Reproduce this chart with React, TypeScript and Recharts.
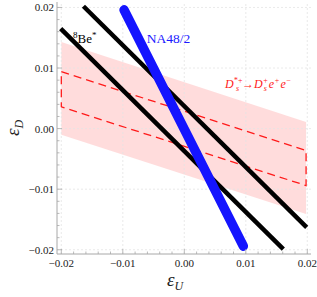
import React from 'react'
import { ComposedChart, Line, Area, XAxis, YAxis, ReferenceLine, ReferenceDot, Label } from 'recharts'

// axis ticks
const majorTicks = [-0.02, -0.01, 0, 0.01, 0.02]
const allTicks = [
    -0.02, -0.018, -0.016, -0.014, -0.012, -0.01, -0.008, -0.006, -0.004, -0.002, 0,
    0.002, 0.004, 0.006, 0.008, 0.01, 0.012, 0.014, 0.016, 0.018, 0.02,
]
const majorLabels = ['\u22120.02', '\u22120.01', '0.00', '0.01', '0.02']

// 8Be* lines
const beUpperX = [-0.0164, 0.0199]
const beUpperY = [0.0202, -0.0163]
const beLowerX = [-0.0201, 0.0161]
const beLowerY = [0.0165, -0.0199]

// NA48/2 band
const naX = [-0.0098, 0.0096]
const naY = [0.0196, -0.0194]

// D_s*+ -> D_s+ e+ e- : shaded region and dashed box
const bandX = [-0.02, 0.0198]
const bandLow = [-0.001, -0.0141]
const bandHigh = [0.0143, 0.0011]
const boxX = [-0.02, 0.0198, 0.0198, -0.02, -0.02]
const boxY = [0.0094, -0.0036, -0.0094, 0.0036, 0.0094]

const toPts = (xs: number[], ys: number[]) => xs.map((x, i) => ({ x, y: ys[i] }))
const beUpper = toPts(beUpperX, beUpperY)
const beLower = toPts(beLowerX, beLowerY)
const na = toPts(naX, naY)
const box = toPts(boxX, boxY)
const band = bandX.map((x, i) => ({ x, band: [bandLow[i], bandHigh[i]] }))

const xDomain = [-0.0207, 0.0206]
const yDomain = [-0.0207, 0.0209]
const frame = '#a8a8a8'
const serif = '"Liberation Serif", "DejaVu Serif", serif'

const labelFor = (v: number) => {
    const i = majorTicks.findIndex(m => Math.abs(m - v) < 1e-9)
    return i >= 0 ? majorLabels[i] : null
}

const makeTick = (side: 'bottom' | 'top' | 'left' | 'right') => (props: any) => {
    const { x, y, payload } = props
    const lab = labelFor(payload.value)
    const len = lab ? 5 : 2.5
    let x2 = x, y2 = y
    if (side === 'bottom') y2 = y - len
    if (side === 'top') y2 = y + len
    if (side === 'left') x2 = x + len
    if (side === 'right') x2 = x - len
    return (
        <g>
            <line x1={x} y1={y} x2={x2} y2={y2} stroke={frame} strokeWidth={0.8} />
            {lab && side === 'bottom' && (
                <text x={x} y={y + 13} textAnchor="middle" fontFamily={serif} fontSize={11} fill="#222">{lab}</text>
            )}
            {lab && side === 'left' && (
                <text x={x - 3} y={y + 4} textAnchor="end" fontFamily={serif} fontSize={11} fill="#222">{lab}</text>
            )}
        </g>
    )
}

const textAt = (node: (cx: number, cy: number) => React.ReactNode) => (p: any) => <g>{node(p.cx, p.cy)}</g>

export default function App() {
    return (
        <div style={{ position: 'fixed', left: 0, top: 0, background: '#fff' }}>
            <ComposedChart width={317} height={297} margin={{ top: 2, right: 6, bottom: 13, left: 0 }}>
                <XAxis
                    xAxisId={0}
                    dataKey="x"
                    type="number"
                    domain={xDomain}
                    allowDataOverflow
                    ticks={allTicks}
                    interval={0}
                    tickSize={0}
                    tickMargin={0}
                    height={30}
                    axisLine={{ stroke: frame }}
                    tick={makeTick('bottom')}
                >
                    <Label
                        content={(p: any) => {
                            const vb = p.viewBox
                            const cx = vb.x + vb.width / 2 - 17
                            const cy = vb.y + 32
                            return (
                                <text x={cx} y={cy} fontFamily={serif} fontStyle="italic" fill="#222">
                                    <tspan fontSize={19}>ε</tspan>
                                    <tspan fontSize={12} dy={4}>U</tspan>
                                </text>
                            )
                        }}
                    />
                </XAxis>
                <XAxis
                    xAxisId="top"
                    orientation="top"
                    type="number"
                    domain={xDomain}
                    allowDataOverflow
                    ticks={allTicks}
                    interval={0}
                    tickSize={0}
                    tickMargin={0}
                    height={0}
                    axisLine={{ stroke: frame }}
                    tick={makeTick('top')}
                />
                <YAxis
                    yAxisId={0}
                    type="number"
                    domain={yDomain}
                    allowDataOverflow
                    ticks={allTicks}
                    interval={0}
                    tickSize={0}
                    tickMargin={0}
                    width={57}
                    axisLine={{ stroke: frame }}
                    tick={makeTick('left')}
                >
                    <Label
                        content={(p: any) => {
                            const vb = p.viewBox
                            const cx = 19
                            const cy = vb.y + vb.height / 2
                            return (
                                <text x={cx} y={cy} transform={`rotate(-90 ${cx} ${cy})`} textAnchor="middle" fontFamily={serif} fontStyle="italic" fill="#222">
                                    <tspan fontSize={19}>ε</tspan>
                                    <tspan fontSize={12} dy={4}>D</tspan>
                                </text>
                            )
                        }}
                    />
                </YAxis>
                <YAxis
                    yAxisId="right"
                    orientation="right"
                    type="number"
                    domain={yDomain}
                    allowDataOverflow
                    ticks={allTicks}
                    interval={0}
                    tickSize={0}
                    tickMargin={0}
                    width={0}
                    axisLine={{ stroke: frame }}
                    tick={makeTick('right')}
                />

                {majorTicks.map(t => (
                    <ReferenceLine key={`gx${t}`} x={t} stroke="#e4e4e4" strokeDasharray="2 2" strokeWidth={0.8} />
                ))}
                {majorTicks.map(t => (
                    <ReferenceLine key={`gy${t}`} y={t} stroke="#e4e4e4" strokeDasharray="2 2" strokeWidth={0.8} />
                ))}

                <Area data={band} dataKey="band" type="linear" stroke="none" fill="#ff3030" fillOpacity={0.17} isAnimationActive={false} />
                <Line data={box} dataKey="y" type="linear" stroke="#ff1a1a" strokeWidth={1.3} strokeDasharray="8 5" dot={false} isAnimationActive={false} />
                <Line data={beUpper} dataKey="y" type="linear" stroke="#000" strokeWidth={4.5} dot={false} isAnimationActive={false} />
                <Line data={beLower} dataKey="y" type="linear" stroke="#000" strokeWidth={4.5} dot={false} isAnimationActive={false} />
                <Line data={na} dataKey="y" type="linear" stroke="#1414ff" strokeWidth={9.5} strokeLinecap="round" dot={false} isAnimationActive={false} />

                <ReferenceDot
                    x={-0.0181}
                    y={0.0141}
                    r={0}
                    shape={textAt((cx, cy) => (
                        <text x={cx} y={cy} fontFamily={serif} fontSize={13} fill="#000">
                            <tspan fontSize={9} dy={-5}>8</tspan>
                            <tspan dy={5}>Be</tspan>
                            <tspan fontSize={9} dy={-5}>*</tspan>
                        </text>
                    ))}
                />
                <ReferenceDot
                    x={-0.0061}
                    y={0.0141}
                    r={0}
                    shape={textAt((cx, cy) => (
                        <text x={cx} y={cy} fontFamily={serif} fontSize={13.5} fill="#1a1aff">NA48/2</text>
                    ))}
                />
                <ReferenceDot
                    x={0.0066}
                    y={0.0067}
                    r={0}
                    shape={textAt((cx, cy) => (
                        <text x={cx} y={cy} fontFamily={serif} fontStyle="italic" fontSize={12} fill="#ff2020">
                            <tspan>D</tspan>
                            <tspan fontSize={8} dy={-5}>*+</tspan>
                            <tspan fontSize={8} dx={-7} dy={8}>s</tspan>
                            <tspan fontStyle="normal" dx={3} dy={-3}>→</tspan>
                            <tspan>D</tspan>
                            <tspan fontSize={8} dy={-5}>+</tspan>
                            <tspan fontSize={8} dx={-4.5} dy={8}>s</tspan>
                            <tspan dx={2} dy={-3}>e</tspan>
                            <tspan fontSize={8} dy={-5}>+</tspan>
                            <tspan dx={1} dy={5}>e</tspan>
                            <tspan fontSize={8} dy={-5}>−</tspan>
                        </text>
                    ))}
                />
            </ComposedChart>
        </div>
    )
}
